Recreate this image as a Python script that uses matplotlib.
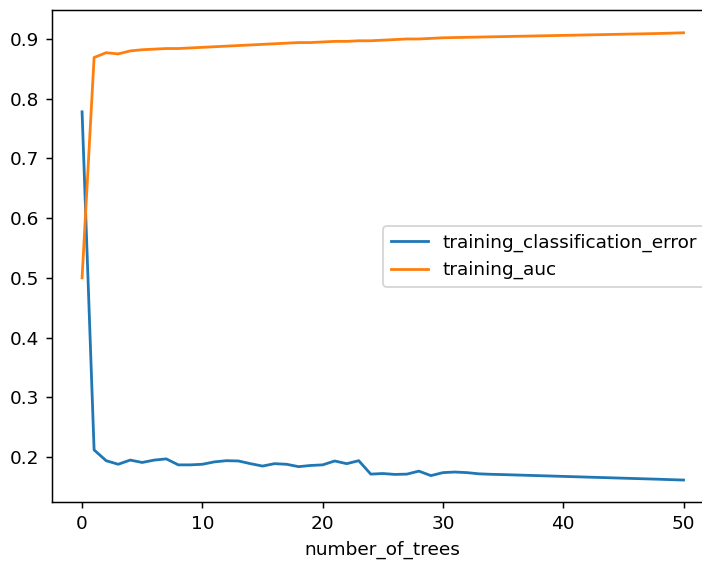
import matplotlib
matplotlib.use("Agg")
import matplotlib.pyplot as plt

# number_of_trees vs. training metrics
number_of_trees = list(range(51))

training_classification_error = [
    0.778, 0.212, 0.194, 0.188, 0.195, 0.191, 0.195, 0.197, 0.187, 0.187,
    0.188, 0.192, 0.194, 0.1935, 0.189, 0.185, 0.189, 0.188, 0.184, 0.186,
    0.187, 0.1935, 0.189, 0.194, 0.1715, 0.1725, 0.171, 0.1715, 0.1765, 0.169,
    0.174, 0.175, 0.174, 0.172, 0.1712, 0.1707, 0.1701, 0.1695, 0.1689, 0.1683,
    0.1677, 0.1671, 0.1665, 0.1659, 0.1653, 0.1647, 0.1641, 0.1635, 0.1629, 0.1622,
    0.1616,
]

training_auc = [
    0.500, 0.869, 0.877, 0.875, 0.880, 0.882, 0.883, 0.884, 0.884, 0.885,
    0.886, 0.887, 0.888, 0.889, 0.890, 0.891, 0.892, 0.893, 0.894, 0.894,
    0.895, 0.896, 0.896, 0.897, 0.897, 0.898, 0.899, 0.900, 0.900, 0.901,
    0.902, 0.9024, 0.9028, 0.9032, 0.9036, 0.904, 0.9044, 0.9048, 0.9052, 0.9056,
    0.906, 0.9064, 0.9068, 0.9072, 0.9076, 0.908, 0.9084, 0.9088, 0.9092, 0.9098,
    0.9104,
]

DPI = 133.33
fig = plt.figure(figsize=(702 / DPI, 562 / DPI), dpi=DPI)
# axes run past the right edge, like the cropped original
ax = fig.add_axes([52 / 702, (562 - 502.4) / 562, 661.6 / 702, 492 / 562])
ax.plot(number_of_trees, training_classification_error, label="training_classification_error")
ax.plot(number_of_trees, training_auc, label="training_auc")
ax.set_xlabel("number_of_trees")
ax.legend(loc="center right")

fig.savefig("out.png", dpi=DPI)
plt.close(fig)
